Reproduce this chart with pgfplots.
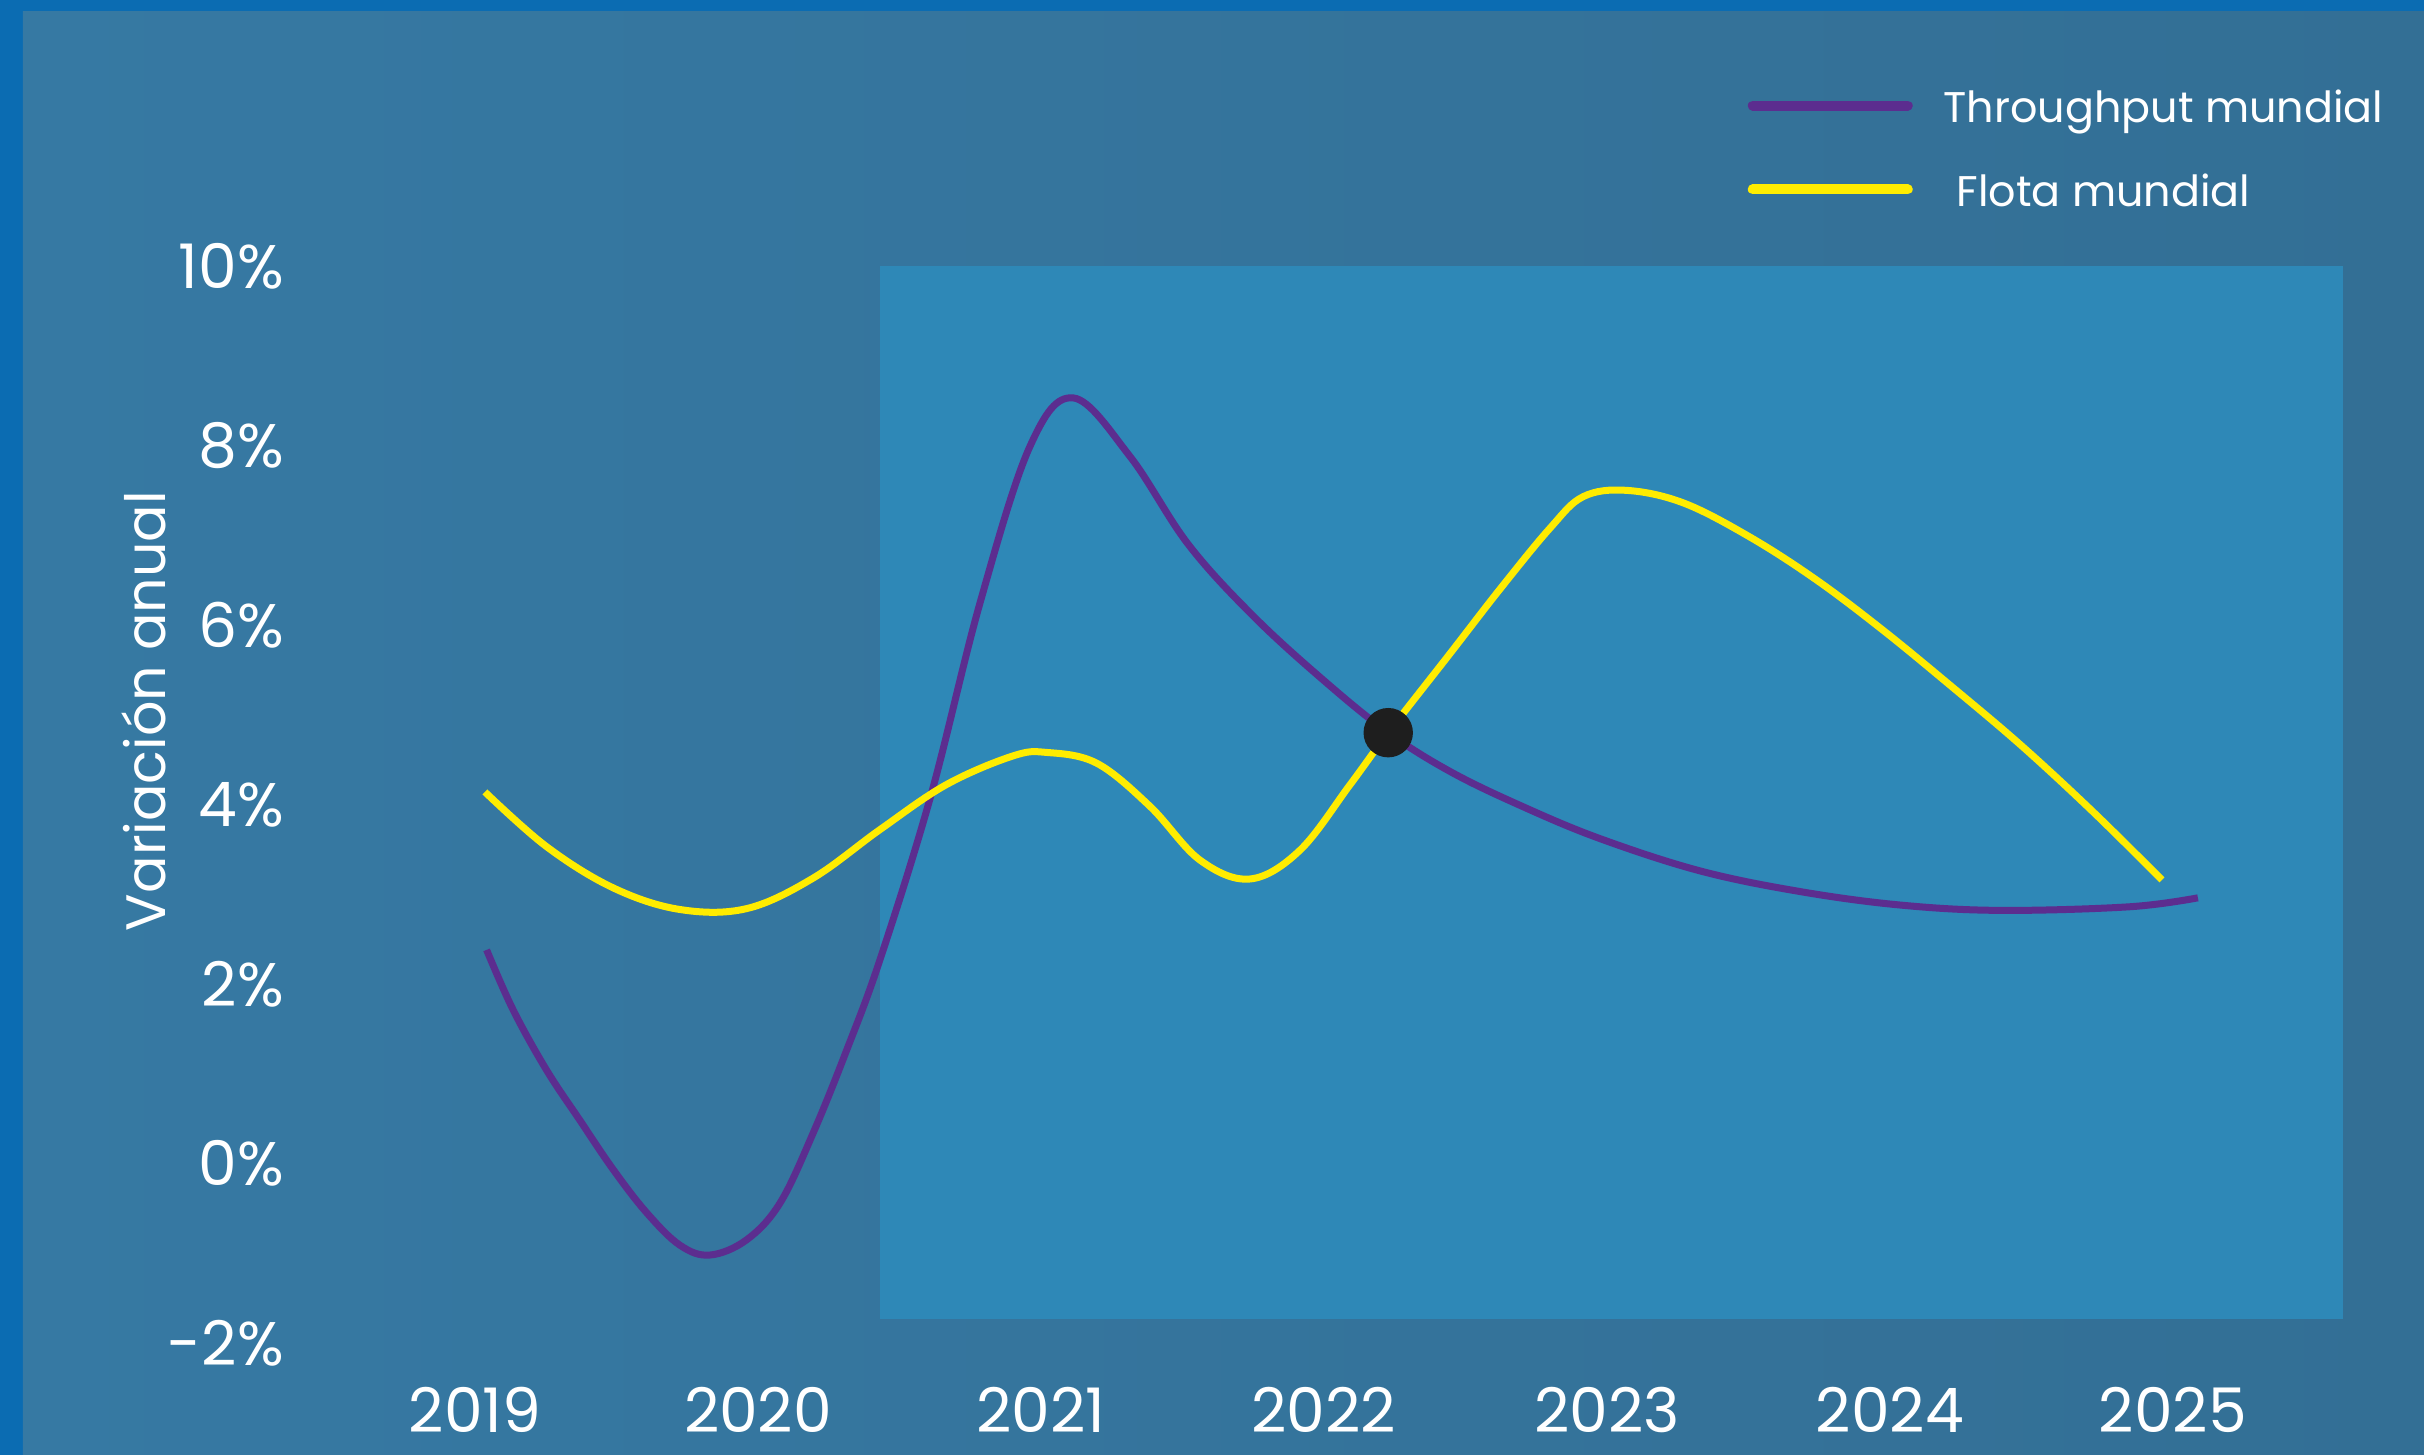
\documentclass[border=0pt]{standalone}
\usepackage{fontspec}
\setmainfont{Poppins}
\usepackage{pgfplots}
\pgfplotsset{compat=1.18}

\definecolor{frameblue}{HTML}{0B6CB2}
\definecolor{bgleft}{HTML}{3679A3}
\definecolor{bgright}{HTML}{336F95}
\definecolor{panel}{HTML}{2E88B7}
\definecolor{throughput}{HTML}{5C2D8F}
\definecolor{flota}{HTML}{FFEC00}
\definecolor{dotc}{HTML}{1E1E1E}

\begin{document}
\begin{tikzpicture}
% fondo
\fill[frameblue] (0,0) rectangle (24.24,14.55);
\shade[left color=bgleft, right color=bgright] (0.23,0) rectangle (24.24,14.43);

\begin{axis}[
    at={(3.335cm,1.12cm)}, anchor=south west,
    scale only axis, width=20.093cm, height=10.77cm,
    xmin=2018.5, xmax=2025.6, ymin=-2, ymax=10,
    clip=false,
    axis line style={draw=none},
    major tick length=0pt,
    xtick={2019,2020,2021,2022,2023,2024,2025},
    xticklabels={2019,2020,2021,2022,2023,2024,2025},
    ytick={-2,0,2,4,6,8,10},
    yticklabels={-2\%,0\%,2\%,4\%,6\%,8\%,10\%},
    ticklabel style={font=\fontsize{17.5}{20}\selectfont, text=white, inner sep=0pt},
    xticklabel style={anchor=center, yshift=-0.67cm},
    yticklabel style={anchor=east, xshift=-0.49cm},
    legend style={draw=none, fill=none, at={(0.7035,1.164)}, anchor=north west,
        inner sep=0pt, font=\fontsize{12.2}{15}\selectfont, text=white,
        row sep=0.46cm, nodes={inner sep=0pt},
        /tikz/every odd column/.append style={column sep=0.31cm}},
    legend cell align=left,
    legend image code/.code={\draw[#1, line width=0.1cm, line cap=round] (0.05cm,0.035cm) -- (1.60cm,0.035cm);},
]
% panel de proyeccion
\addplot[fill=panel, draw=none, forget plot] coordinates {
    (2020.43,-1.73) (2025.6,-1.73) (2025.6,10) (2020.43,10)} -- cycle;

\addplot[throughput, line width=0.07cm, smooth, tension=0.6] coordinates {
    (2019.041,2.38) (2019.135,1.71) (2019.253,1.04) (2019.371,0.48)
    (2019.489,-0.07) (2019.607,-0.55) (2019.724,-0.91) (2019.830,-1.02)
    (2019.960,-0.85) (2020.078,-0.44) (2020.195,0.34) (2020.313,1.26)
    (2020.431,2.27) (2020.610,4.09) (2020.784,6.24) (2020.961,7.99)
    (2021.114,8.53) (2021.314,7.88) (2021.520,6.90) (2021.750,6.10)
    (2022.000,5.38) (2022.227,4.80) (2022.450,4.36)
    (2022.700,3.98) (2022.975,3.62) (2023.329,3.26) (2023.682,3.03)
    (2024.035,2.88) (2024.389,2.82) (2024.845,2.86) (2025.088,2.96)
};
\addlegendentry{Throughput mundial}

\addplot[flota, line width=0.07cm, smooth, tension=0.6] coordinates {
    (2019.035,4.14) (2019.253,3.53) (2019.489,3.07) (2019.724,2.83)
    (2019.960,2.84) (2020.195,3.18) (2020.431,3.72) (2020.665,4.22)
    (2020.900,4.54) (2021.020,4.58) (2021.197,4.46) (2021.385,3.98)
    (2021.562,3.38) (2021.739,3.17) (2021.915,3.49) (2022.092,4.22)
    (2022.227,4.80) (2022.445,5.68) (2022.622,6.40) (2022.799,7.08)
    (2022.916,7.43) (2023.069,7.50) (2023.270,7.36) (2023.505,6.98)
    (2023.741,6.50) (2023.976,5.94) (2024.212,5.33) (2024.463,4.66)
    (2024.717,3.92) (2024.961,3.16)
};
\addlegendentry{\hspace{0.13cm}Flota mundial}

\addplot[only marks, mark=*, mark size=0.24cm, dotc, forget plot] coordinates {(2022.227,4.80)};
\end{axis}

\node[rotate=90, text=white, font=\fontsize{15.8}{18}\selectfont] at (1.44,7.44) {Variación anual};

\pgfresetboundingbox
\useasboundingbox (0,0) rectangle (24.24,14.55);
\end{tikzpicture}
\end{document}
